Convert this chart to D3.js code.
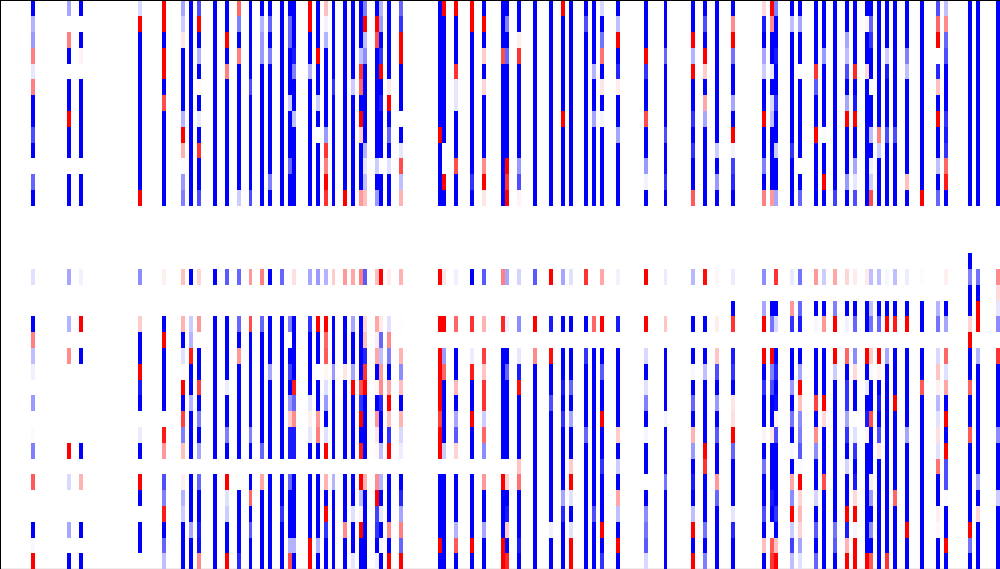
<!DOCTYPE html>
<html><head><meta charset="utf-8">
<script src="https://cdn.jsdelivr.net/npm/d3@7/dist/d3.min.js"></script>
<style>html,body{margin:0;padding:0;background:#fff;overflow:hidden}svg{display:block}</style>
</head><body><svg id="c" width="1000" height="569"></svg>
<script>
const columnCount = 253, rowCount = 36;
const activeColumns = [8,17,20,35,41,46,48,50,54,57,60,63,66,68,71,73,74,78,80,82,84,87,89,91,92,95,96,98,101,111,112,115,119,122,127,128,131,135,139,142,144,148,150,152,156,163,168,175,178,181,185,193,195,196,200,202,206,208,211,214,216,219,220,222,224,226,229,233,237,239,245,247,252];
const upperFirstRow = 0, lowerFirstRow = 16;
// rows 0-12, one list per active column
const upperValues = [
[-10,-3,-4,5,-1,5,-10,-10,-7,-10,0,-6,-10],
[-3.5,0,5,-10,0,-10,-10,10,-10,-10,0,-10,-10],
[-10,0,-10,.5,0,-10,-10,-10,-10,-10,0,-10,-10],
[-1.5,10,-10,-10,-10,-10,-10,-10,-10,-10,-10,-10,10],
[10,10,-10,10,10,-10,7,-10,-10,-10,-10,-10,-10],
[-3.5,-2,1,-10,-10,-10,-10,-3,10,3,-.2,-4,-5],
[-10,-10,-10,-10,-10,-10,-10,-10,-10,-10,-10,-10,-10],
[-7,10,-10,-3,-10,.3,-10,-.8,-10,8,-10,-10,-7],
[-10,-10,-10,-10,-10,-10,-10,-10,-10,-10,-10,-10,-10],
[-10,-10,10,-10,5,-10,-10,-10,-10,-10,-10,-10,-10],
[6,-5,-10,5,-10,-10,-10,-10,-10,-10,-10,-10,-2],
[-10,-10,-10,-10,-10,-7,-10,-10,-10,-10,-10,-10,-7],
[-10,-3,-4,-4,-10,-10,-10,-10,-10,-10,-10,-10,-10],
[-10,-6,-10,-5,-10,-10,-10,-10,-10,-10,-10,-5,-10],
[-10,-10,-10,-10,-10,-10,-10,-10,-10,-10,-10,-10,-10],
[-10,-6,-6,-10,-10,-10,-2,-10,-10,-10,-6,-10,-10],
[-10,-10,-10,-9,-5,-10,-10,-2.5,-10,-10,-10,-10,-10],
[10,10,-10,-10,-3,-10,-10,-10,-10,-10,-10,-10,-10],
[-10,-10,-10,10,-10,-10,-2,-10,0,-10,-10,-10,-10],
[2.5,-.5,-3,-10,-10,-10,-10,-10,-4,8,5,10,8],
[-10,-10,-10,-10,-10,-8,-10,-10,-10,-10,-10,-10,-10],
[-10,-10,-10,-10,-10,-10,-10,-10,-10,-10,-10,-10,10],
[-10,-10,-10,-10,-10,-2,-10,-10,-10,-10,-10,-10,-10],
[-10,-10,-10,-2.5,8,6,-10,10,2,-10,-10,-10,4],
[-5,10,-2.5,-4.5,-10,-10,-10,-10,-10,-3,-1,-2.5,2.5],
[-10,10,7,-10,-10,-10,-10,-10,-10,-10,-2,-10,-4],
[-3,-4,-10,-8,10,-10,-9,-10,-10,-10,0,-10,-10],
[-10,-10,-10,-10,-10,1,10,-10,-6,-10,-1.2,-10,-10],
[-6,-8,10,10,-10,-10,-10,0,-10,-1,7,-2.5,3],
[-10,-10,-10,-10,-10,-10,-10,-10,10,-10,-10,-10,-10],
[10,-10,-10,-10,-10,-10,-10,-10,-10,0,0,10,-10],
[10,-10,-10,-10,8,-1,-1,-10,-10,-10,7,-10,-10],
[10,10,-10,-10,-10,-10,-10,-10,-10,-10,-10,-8,-10],
[-10,10,-10,2,-10,1.7,-10,-10,-10,-10,4.5,10,1],
[-10,-10,-10,7,-10,-10,-10,-10,-10,-10,-10,-10,-10],
[-10,-5,-10,-6,-10,-10,-10,-10,-10,-10,10,8,10],
[-10,-10,.7,8,-10,-10,-10,-10,-10,-10,-4,-7,.5],
[-10,-10,-10,-10,-10,-10,-10,-10,-10,-10,-10,-10,-10],
[-10,-10,-10,-10,-10,-10,-10,-10,-10,-10,-10,-10,-10],
[10,-10,-10,-10,-10,-10,-10,10,-10,-10,-10,-10,-10],
[-10,-10,-10,-10,-10,-10,-10,-10,-10,-10,-10,-10,-10],
[-10,-7,-10,-10,-10,-10,-10,-10,-10,-10,-10,-10,-10],
[-10,-10,-10,-10,-3,-10,-10,-3.5,-10,-10,-10,-10,-10],
[-1.5,-10,-5.5,5.5,-10,1,-10,-.4,-10,-10,-10,-10,-10],
[-10,-2.5,10,-10,-8.5,.8,-10,-10,-3.5,-10,-10,-10,-10],
[-10,-10,-10,10,-8,-10,-10,7,-10,-10,-4,-.5,-10],
[-10,-10,-10,-6,-10,-10,-10,-10,-7,-10,-10,-8,-10],
[-10,-10,10,-3,10,-10,-10,-8,-10,-8,-10,-10,6.5],
[-10,-7,-10,10,2,-10,3.5,-3.5,-10,-10,-10,-10,-10],
[-10,-10,-10,-10,-10,-10,-10,-10,-10,-2,-10,-4,-10],
[-10,4.5,10,-5.5,-10,-10,-3.5,-10,10,-.5,-7.5,-8.5,-10],
[1.5,-9,-10,-3.5,-2,-10,-10,10,-10,-10,-5,-10,5],
[10,4.5,-10,-10,-1,-10,-1.5,-2.5,-10,-10,-10,-10,4],
[-5,-10,-10,-9,-10,-10,-8,-10,-10,-2,-10,-10,-3.5],
[-10,-2.5,-10,-10,-10,-10,-10,-10,-10,-8,-10,-10,-10],
[-10,-3.5,-10,-10,0,-10,-10,-10,-10,-10,0,-10,-6],
[-10,-10,-10,-10,8,-6.5,-10,-10,10,-10,-10,-10,-10],
[-10,-10,-10,-4,-10,-10,-10,-10,-.2,-10,-10,10,-10],
[-10,-10,-10,-10,-10,-10,-10,-10,-10,-10,-10,-10,-7.5],
[-10,-10,-3.5,-2.5,-7,-10,-3.5,10,-10,-10,-10,-4,-10],
[-10,-10,-10,-10,8.5,-10,-9,10,-10,-10,-3.5,-1,-7],
[-10,.4,-10,-10,1.5,-10,-10,-10,-10,-10,-10,-10,-10],
[-10,-6,-8,-10,-10,-.2,-10,-10,-2.5,-10,-.5,-2,7],
[-10,-10,-10,-10,-10,-10,-10,-10,5,-2,-10,-10,-10],
[-10,-10,-10,-2,-9,-10,-10,-10,-7,-10,-10,-10,-10],
[-10,-10,-10,-10,-10,-10,-10,-10,-7,-10,-10,-10,-10],
[-10,-10,-10,-5,-2.5,-10,-10,-10,-10,-10,-10,2.5,-10],
[-10,-10,-10,-10,-10,-10,-10,-10,-10,-10,-10,-10,10],
[-7,6,10,0,-8.5,2.5,-10,10,-10,-10,-2.5,-10,-6],
[-2.5,4.5,-6,-7,-10,-10,-10,-8,-9,-8,6,9,-10],
[-10,-10,-10,-10,-10,-10,-10,-10,-10,-10,-10,-10,-10],
[-10,-10,-10,-10,-10,-10,-10,-10,-10,-10,-10,-10,-10],
[-10,-10,-10,-10,-10,-10,-10,-10,-10,-10,-10,-10,-10]
];
// rows 16-35, one list per active column
const lowerValues = [
[0,-1.2,0,0,-10,5,-2.5,-.6,0,-4,0,.2,-5,0,6.5,0,0,-10,-.3,10],
[0,-3.5,0,0,-3,0,4.5,0,0,0,0,0,10,0,-1.5,0,0,-3.5,0,-10],
[0,-.5,0,0,10,0,-10,0,0,0,0,0,-10,0,3,0,0,-10,0,-10],
[0,-4.5,0,0,2,-10,-10,10,-9,-10,0,-.8,-10,0,10,-10,0,-10,-10,0],
[0,.6,0,0,-10,10,-10,-10,-10,-10,0,9,4,0,-7,-5,9,-10,-6,-2.5],
[0,2.5,0,0,3,-10,-1.2,.2,10,-10,7.5,-5,2.5,0,.6,-3,-2,-10,-10,-10],
[0,-10,0,0,-2,-3,9,-10,-10,-3,-10,-10,-10,0,-10,-10,-10,-3.5,-10,-10],
[0,1.7,0,0,4,.1,-10,-10,7.5,-10,-5,-10,-3.5,0,-6,-10,-10,-9,-9.5,4.5],
[0,-10,0,0,-10,-10,-10,-10,-10,-10,-10,-10,-10,0,-10,-10,-10,-10,-10,-10],
[0,-6.5,0,0,-10,-10,-10,-10,-.7,-10,-10,-5,-10,0,10,-1.2,-2,-10,-10,10],
[0,-6,0,0,-6,-10,4,-10,-10,-10,-10,-10,-10,0,.1,-10,-10,-10,-10,-8.5],
[0,4,0,0,7,-10,-10,-10,-10,-10,-10,-5,-10,0,-10,6,-10,-6.5,-10,-10],
[0,5,0,0,-6,-10,-10,-10,-10,-10,-10,-10,-6,0,3.5,-10,-10,-10,-10,-10],
[0,-10,0,0,-10,-10,-10,-3.5,-10,-10,-10,-10,-10,0,-10,-10,-10,-10,-10,-10],
[0,-6,0,0,-10,-10,-10,-10,-10,-10,-10,-10,-10,0,-10,-10,-8,-10,-10,-10],
[0,0,0,0,-5,0,-10,-7.5,-10,-4,2,-9,-9,0,-6,-10,-10,-10,-3,7],
[0,1.2,0,0,-10,-10,-10,-10,9,-6,4.5,-9,-9,0,-10,-10,-10,-10,-3,-10],
[0,-3.5,0,0,-8,-10,-10,-10,-10,-1,.6,-1,-10,0,-10,-10,-10,-10,10,10],
[0,-4,0,0,10,-10,-10,0,-10,-10,4,5,-10,0,-10,-10,-10,-10,-3,-10],
[0,-3,0,0,10,6,6.5,.4,-1.2,-4,-10,-1.2,10,0,3,-10,10,-8,-10,-10],
[0,2,0,0,-10,-10,-10,-4,-10,-10,-10,-10,-10,0,-3,-10,-10,-10,-10,-10],
[0,4,0,0,-10,-10,-10,1,-10,-10,-10,-10,-10,0,-10,-10,-10,4.5,-10,-10],
[0,3.5,0,0,-3.5,-10,-10,-3.5,10,-10,-10,-10,-10,0,-10,-10,-1.2,-10,-10,-1],
[0,5,0,0,-10,-10,-10,-10,7,-8,10,-10,9,0,10,-2.5,.5,10,-10,-10],
[0,-6.5,0,0,1.5,2.5,-8.5,8,10,-10,-10,-10,-10,0,3,-10,-10,-10,-10,-10],
[0,2.5,0,0,3.5,.7,3.5,-10,.4,-10,4,1,.3,0,4.5,10,-7.5,-8,-10,-.5],
[0,10,0,0,.8,-6,-2.5,4,4.5,-8.5,-10,-10,-2.5,0,-3,-10,-1,-10,-.3,-10],
[0,.7,0,0,-1.2,4.5,-5,-10,3.5,10,2.5,-8,10,0,-10,-10,-10,4.5,-10,10],
[0,3,0,0,.1,0,3,-4.5,2.5,-10,3,-1.5,-.7,0,-10,-8.5,-3.5,5,-6,10],
[0,10,0,0,10,0,10,10,10,10,7.5,10,10,0,-10,-10,-10,-10,10,-10],
[0,1,0,0,10,0,-4,6,-10,-10,-10,-10,-2,0,-10,-10,-10,-10,-10,-10],
[0,-.6,0,0,6,0,-10,-10,2.8,-10,-3.5,-6.5,1.7,0,-10,-10,-10,-3,6.5,-10],
[0,-10,0,0,8,0,-.7,9,-10,-10,10,-10,-10,0,-10,-10,-10,-10,10,-10],
[0,-6.5,0,0,3,0,7.5,2.3,8,8,-2,6,-4.5,0,4,-10,-10,-3.5,-10,-10],
[0,5,0,0,8.5,0,-10,-10,-10,-10,-10,-10,-10,0,10,-10,-10,-10,10,10],
[0,-3.5,0,0,-.6,0,-10,-6,-10,-10,-10,-10,-10,0,1.7,-10,-9,2,-10,8.5],
[0,-1.7,0,0,-4.5,0,-1,-9,9.5,-10,-10,-10,-10,2.3,5.5,-10,-10,-10,-9,-10],
[0,-6.5,0,0,10,0,4.5,-10,-10,-10,-10,-10,-10,-10,-10,-10,-10,-10,-10,-10],
[0,10,0,0,-9,0,9.5,-10,-10,-7,-10,-10,-10,-10,-10,-10,-10,-.5,-10,-10],
[0,-3.5,0,0,-10,0,-10,-10,-9,-10,-8,-10,-10,-10,-10,-3.5,-8.5,-10,-10,-10],
[0,-1.2,0,0,-10,0,-10,-10,-6,-10,-3.5,-10,-10,2,10,-1.2,-10,-1.2,10,10],
[0,8,0,0,-10,0,-8,-10,-10,-10,-10,-6,-10,-10,-10,-10,-10,-10,-10,-10],
[0,0,0,0,6,0,-10,-10,-10,-10,-10,-10,-10,-10,-10,-10,-7,-10,-10,-10],
[0,3.5,0,0,10,0,-10,-6.5,-10,-10,10,-10,-10,-8,-10,-10,-10,10,-10,-8],
[0,-.5,0,0,-9,0,-10,-10,-10,-10,-10,2,-10,-2,-10,3.5,-2.5,-10,10,-10],
[0,10,0,0,10,0,-1.5,-10,-1.2,-5,-10,-.4,-10,-10,0,-10,-4.5,-5.5,-6.5,-1.5],
[0,-.8,0,0,2.3,0,-10,-10,-10,-10,-.4,-10,-10,-10,-5.5,-10,-10,-10,-10,-10],
[0,-2.8,0,0,-10,0,-10,-.3,-10,-6,-10,3,-4,-10,-9,-10,-2.5,10,-10,10],
[0,9.5,0,0,-10,0,-10,-2.5,-10,-10,-10,-10,10,8,-10,-10,-10,-5.5,-10,-5],
[0,.3,0,0,.7,0,2.3,-7,-10,-4,-10,-6.5,-10,-10,4,-6,-10,-10,-10,-10],
[0,-.8,0,-10,8,0,-9,-8,-10,1,1.3,10,-6,-10,-10,-10,-1,-8.5,-10,-10],
[0,-4.5,0,-3.5,10,0,10,-10,-8,-10,-10,.5,-10,-5.5,-10,-10,-7,-10,2.5,-10],
[0,0,0,-10,-5.5,0,10,-5,-7,-10,-10,1,-10,-10,-10,-9,-10,-.2,6.5,8],
[0,8,0,-10,-1.5,0,-10,-8.5,-10,-9.5,.4,-7,-10,-10,-10,-10,-8,-10,2.5,10],
[0,-.8,0,4,-8,0,-10,-10,-4,-10,-5.5,-10,-.3,-10,3.5,-4.5,10,-2,-7.5,-2.5],
[0,-5.5,0,-6,-9,0,-10,-3.5,10,2.5,-4.5,-5,-6.5,-.2,10,1.7,2.8,1.7,-3.5,-1.2],
[0,4,0,-10,-.3,0,-10,-10,-10,7.5,-10,4.5,-4.5,-10,-10,-1.7,-10,-6.5,-10,-6],
[0,-2,0,-10,4,0,-10,-10,-10,10,1.5,-10,-10,-10,7,-10,-10,-10,-10,-10],
[0,3.5,0,-5,10,0,10,-2,-10,-10,-10,-10,-10,-10,-10,-10,-10,-5.5,-6.5,-10],
[0,1.7,0,-10,-.5,0,6,-10,-8,-8,-3.5,-8,-10,-1.7,-10,-10,10,-9,3,10],
[0,.8,0,-10,-6,0,-4.5,1.5,-10,-10,0,-1.2,-8,-10,-9,1.5,10,-.4,10,10],
[0,.8,0,-10,-10,0,10,-10,-.7,-10,-9,.4,-10,-10,-10,-10,-10,-10,-10,10],
[0,-2.5,0,-2.5,-5.5,0,2,.3,-10,-10,7,-10,-10,-10,.8,-4,-10,-4.5,-10,6.5],
[0,-2.5,0,-10,-6,0,10,.5,-10,-9,-10,-7,1,-10,-10,-10,-10,-10,-10,-10],
[0,-.3,0,-10,10,0,-3.5,-10,-10,-10,-10,-10,-10,-10,-10,-10,-10,-10,-10,8],
[0,-2.5,0,-10,9,0,-10,-10,-10,10,-10,-10,-10,-10,-10,6,-10,-10,-10,-10],
[0,-.7,0,-10,10,0,-10,-10,-10,-10,-10,-3.5,-10,-10,-10,-10,-10,10,-10,-10],
[0,-.1,0,-10,-10,0,-10,-10,6.5,-10,-10,-10,-10,-10,-10,-10,-10,-10,-10,-10],
[0,0,0,-3,-5.5,0,-1.5,2.3,.6,-2.8,-1.2,1.2,-1.2,5.5,-10,-10,.6,.3,-10,-10],
[0,.6,0,-10,-3.5,0,6,-1.2,3.5,-10,10,-10,10,-7,-7,-.2,-10,-10,10,-10],
[-10,-5,-10,-10,1.7,10,-10,-10,6,-10,-10,6.5,-10,-10,-10,-10,-10,10,-5.5,-10],
[0,-5.5,-10,10,10,0,-3,-10,-10,-10,-10,-10,-10,-10,-3.5,-10,1.7,-10,-10,-10],
[0,4.5,1.5,-1,-4.5,0,8,-10,-10,-10,-10,-4.5,-10,-10,-10,-2,-10,-10,-10,-10]
];

const x = d3.scaleLinear().domain([0, columnCount]).range([0, 1000]);
const y = d3.scaleLinear().domain([0, rowCount]).range([0, 568.8]);
const color = d3.scaleLinear().domain([-10, 0, 10]).range(["#0000ff", "#ffffff", "#ff0000"]);

const cells = [];
activeColumns.forEach((c, i) => {
  upperValues[i].forEach((v, k) => { if (v !== 0) cells.push({c, r: upperFirstRow + k, v}); });
  lowerValues[i].forEach((v, k) => { if (v !== 0) cells.push({c, r: lowerFirstRow + k, v}); });
});

const svg = d3.select("#c");
const px = c => Math.floor(x(c)), py = r => Math.ceil(y(r) - 1e-6);
svg.append("line").attr("shape-rendering", "crispEdges")
  .attr("x1", 0).attr("x2", 1000).attr("y1", 568.5).attr("y2", 568.5).attr("stroke", "#eeeeee");
svg.append("g").attr("shape-rendering", "crispEdges").selectAll("rect").data(cells).join("rect")
  .attr("x", d => px(d.c)).attr("width", d => px(d.c + 1) - px(d.c))
  .attr("y", d => py(d.r)).attr("height", d => py(d.r + 1) - py(d.r))
  .attr("fill", d => color(d.v));

const frame = svg.append("g").attr("shape-rendering", "crispEdges");
frame.append("line").attr("x1", 0.5).attr("x2", 0.5).attr("y1", 0).attr("y2", 569).attr("stroke", "#000");
frame.append("line").attr("x1", 0).attr("x2", 1000).attr("y1", 0.5).attr("y2", 0.5).attr("stroke", "#000");
</script></body></html>
